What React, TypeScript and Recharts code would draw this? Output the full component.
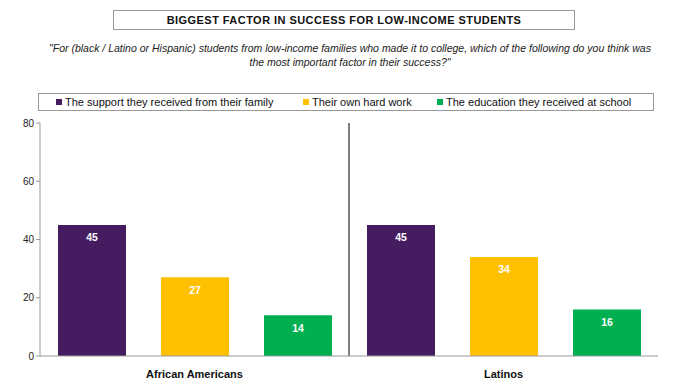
import { BarChart, Bar, XAxis, YAxis, LabelList, ReferenceLine } from "recharts";

const categories = ["African Americans", "Latinos"];
const familySupport = [45, 45];
const ownHardWork = [27, 34];
const schoolEducation = [14, 16];
const yTicks = [0, 20, 40, 60, 80];

const seriesNames = [
  "The support they received from their family",
  "Their own hard work",
  "The education they received at school",
];
const colors = ["#461C61", "#FFC000", "#00B050"];

const data = categories.map((name, i) => ({
  name,
  family: familySupport[i],
  hard: ownHardWork[i],
  school: schoolEducation[i],
}));

const font = "'Liberation Sans', Arial, sans-serif";

export default function App() {
  return (
    <div style={{ position: "absolute", left: 0, top: 0, width: 678, height: 390, background: "#fff", fontFamily: font }}>
      <div
        style={{
          position: "absolute",
          left: 113,
          top: 10,
          width: 462,
          height: 20,
          border: "1px solid #999",
          boxSizing: "border-box",
          textAlign: "center",
          fontSize: 11,
          fontWeight: "bold",
          lineHeight: "18px",
          color: "#111",
          letterSpacing: 0.45,
        }}
      >
        BIGGEST FACTOR IN SUCCESS FOR LOW-INCOME STUDENTS
      </div>
      <div
        style={{
          position: "absolute",
          left: 20,
          top: 41,
          width: 660,
          textAlign: "center",
          fontSize: 10.5,
          fontStyle: "italic",
          lineHeight: "14px",
          color: "#222",
          whiteSpace: "nowrap",
        }}
      >
        "For (black / Latino or Hispanic) students from low-income families who made it to college, which of the following do you think was
        <br />
        the most important factor in their success?"
      </div>
      <div
        style={{
          position: "absolute",
          left: 38,
          top: 93,
          width: 616,
          height: 18,
          border: "1px solid #999",
          boxSizing: "border-box",
          fontSize: 11,
          color: "#111",
          lineHeight: "16px",
          whiteSpace: "nowrap",
        }}
      >
        {seriesNames.map((s, i) => (
          <span key={s} style={{ position: "absolute", left: [17, 264, 398][i], top: 0 }}>
            <span style={{ display: "inline-block", width: 6, height: 6, background: colors[i], marginRight: 3, verticalAlign: 1 }} />
            {s}
          </span>
        ))}
      </div>
      <BarChart
        width={678}
        height={390}
        data={data}
        margin={{ top: 123, right: 20, left: 0, bottom: 0 }}
        barSize={68}
        barGap={35}
        style={{ position: "absolute", left: 0, top: 0 }}
      >
        <XAxis
          dataKey="name"
          height={34}
          axisLine={{ stroke: "#999" }}
          tickLine={false}
          tick={{ fill: "#111", fontSize: 11, fontWeight: "bold", fontFamily: font }}
          dy={6}
        />
        <YAxis
          width={40}
          domain={[0, 80]}
          ticks={yTicks}
          axisLine={{ stroke: "#999" }}
          tickLine={{ stroke: "#999" }}
          tickSize={4}
          tick={{ fill: "#222", fontSize: 10, fontFamily: font }}
        />
        <ReferenceLine x="Latinos" position="start" stroke="#555" strokeWidth={1.5} />
        {(["family", "hard", "school"] as const).map((key, i) => (
          <Bar key={key} dataKey={key} fill={colors[i]} isAnimationActive={false}>
            <LabelList
              dataKey={key}
              position="insideTop"
              offset={9}
              fill="#fff"
              fontSize={10.5}
              fontWeight="bold"
              fontFamily={font}
            />
          </Bar>
        ))}
      </BarChart>
    </div>
  );
}
